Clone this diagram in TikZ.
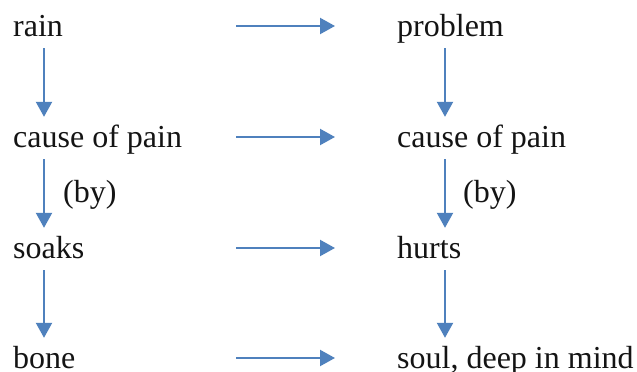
\documentclass[tikz,border=0pt]{standalone}
\usepackage{fontspec}
\setmainfont{Liberation Serif}
\usetikzlibrary{calc}
\usetikzlibrary{arrows.meta}
\definecolor{arrowblue}{RGB}{79,129,189}
\definecolor{ink}{RGB}{20,20,20}
\tikzset{word/.style={anchor=base west,inner sep=0pt,text=ink,font=\fontsize{32}{38}\selectfont,text height=22pt,text depth=7pt}}
\tikzset{link/.style={color=#1,line width=2.2pt,-{Triangle[length=15pt,width=16pt]}},link/.default=arrowblue}
\tikzset{down link/.style={link,shorten <=5pt,shorten >=8pt}}

\begin{document}
\begin{tikzpicture}[x=1pt,y=-1pt]

	\useasboundingbox [fill=white] (0,0) rectangle (637,372);

	% Left column
	\node [word] (rain)       at (13,36)  {rain};
	\node [word] (cause left) at (13,147) {cause of pain};
	\node [word] (soaks)      at (13,258) {soaks};
	\node [word] (bone)       at (13,368) {bone};

	% Right column
	\node [word] (problem)     at (397,36)  {problem};
	\node [word] (cause right) at (397,147) {cause of pain};
	\node [word] (hurts)       at (397,258) {hurts};
	\node [word] (soul)        at (397,368) {soul, deep in mind};

	% Axes of the arrows
	\coordinate (left axis)   at (44,0);
	\coordinate (right axis)  at (445,0);
	\coordinate (arrow left)  at (236,0);
	\coordinate (arrow right) at (335,0);

	% Arrows down the left column
	\draw [down link] (rain.south -| left axis) -- (cause left.north -| left axis);
	\draw [down link] (cause left.south -| left axis) -- (soaks.north -| left axis)
		node [word, midway, anchor=west, xshift=18pt] (by left) {(by)};
	\draw [down link] (soaks.south -| left axis) -- (bone.north -| left axis);

	% Arrows down the right column
	\draw [down link] (problem.south -| right axis) -- (cause right.north -| right axis);
	\draw [down link] (cause right.south -| right axis) -- (hurts.north -| right axis)
		node [word, midway, anchor=west, xshift=17pt] (by right) {(by)};
	\draw [down link] (hurts.south -| right axis) -- (soul.north -| right axis);

	% Arrows across
	\draw [link] ($(rain.base -| arrow left) + (0,-10)$) --
	             ($(problem.base -| arrow right) + (0,-10)$);
	\draw [link] ($(cause left.base -| arrow left) + (0,-10)$) --
	             ($(cause right.base -| arrow right) + (0,-10)$);
	\draw [link] ($(soaks.base -| arrow left) + (0,-10)$) --
	             ($(hurts.base -| arrow right) + (0,-10)$);
	\draw [link] ($(bone.base -| arrow left) + (0,-10)$) --
	             ($(soul.base -| arrow right) + (0,-10)$);

\end{tikzpicture}
\end{document}
